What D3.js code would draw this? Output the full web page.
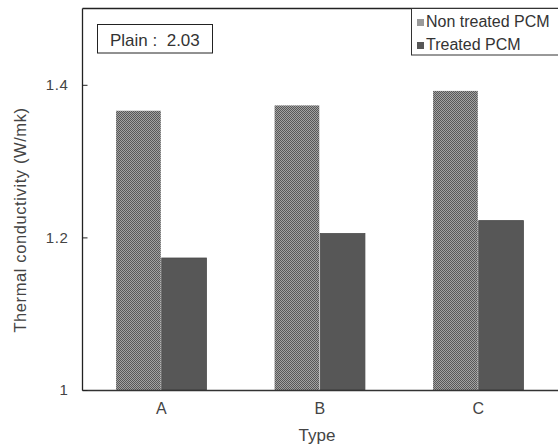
<!DOCTYPE html>
<html>
<head>
<meta charset="utf-8">
<script src="https://cdn.jsdelivr.net/npm/d3@7"></script>
<style>
  html, body { margin: 0; padding: 0; background: #fff; }
  svg { display: block; font-family: "Liberation Sans", Arial, sans-serif; }
</style>
</head>
<body>
<svg id="chart" width="558" height="446"></svg>
<script>
const categories = ["A", "B", "C"];
const seriesNames = ["Non treated PCM", "Treated PCM"];
const nonTreated = [1.366, 1.373, 1.392];
const treated = [1.173, 1.205, 1.222];
const yTicks = [1, 1.2, 1.4];
const yTickLabels = ["1", "1.2", "1.4"];
const note = "Plain :  2.03";
const xTitle = "Type";
const yTitle = "Thermal conductivity  (W/mk)";

const svg = d3.select("#chart");
const plotLeft = 82.5, plotRight = 558, plotTop = 8.5, plotBottom = 390.5;

const defs = svg.append("defs");
const pat = defs.append("pattern").attr("id", "checker")
  .attr("patternUnits", "userSpaceOnUse").attr("width", 2).attr("height", 2);
pat.append("rect").attr("width", 2).attr("height", 2).attr("fill", "#a2a2a2");
pat.append("rect").attr("x", 0).attr("y", 0).attr("width", 1).attr("height", 1).attr("fill", "#575757");
pat.append("rect").attr("x", 1).attr("y", 1).attr("width", 1).attr("height", 1).attr("fill", "#575757");

const x0 = d3.scaleBand().domain(categories).range([plotLeft - 0.5, 557.5])
  .paddingInner(0.43).paddingOuter(0.215);
const x1 = d3.scaleBand().domain(seriesNames).range([0, x0.bandwidth()]).paddingInner(0.02);
const y = d3.scaleLinear().domain([1, 1.5]).range([390, 8.5]);

const fills = ["url(#checker)", "#575757"];
const data = categories.map((c, i) => ({ cat: c, vals: [nonTreated[i], treated[i]] }));

const g = svg.append("g");
data.forEach(d => {
  d.vals.forEach((v, j) => {
    g.append("rect")
      .attr("x", x0(d.cat) + x1(seriesNames[j]))
      .attr("y", y(v))
      .attr("width", x1.bandwidth())
      .attr("height", y(1) - y(v))
      .attr("fill", fills[j])
      .attr("stroke", j === 1 ? "#4a4a4a" : "none")
      .attr("stroke-width", 0.8);
  });
});

// frame lines
svg.append("line").attr("x1", plotLeft).attr("x2", plotRight).attr("y1", plotTop).attr("y2", plotTop)
  .attr("stroke", "#222").attr("stroke-width", 1.3);
svg.append("line").attr("x1", plotLeft).attr("x2", plotRight).attr("y1", plotBottom).attr("y2", plotBottom)
  .attr("stroke", "#333").attr("stroke-width", 1.3);

// y axis
const yAxis = d3.axisLeft(y).tickValues(yTicks).tickSize(-5).tickPadding(14)
  .tickFormat((d, i) => yTickLabels[i]);
const ya = svg.append("g").attr("transform", `translate(${plotLeft},0)`).call(yAxis);
ya.select(".domain").attr("d", `M0,${plotTop}V${plotBottom}`).attr("stroke", "#222").attr("stroke-width", 1.3);
ya.selectAll(".tick line").attr("stroke", "#222");
ya.selectAll(".tick text").attr("font-size", 15).attr("fill", "#444")
  .attr("font-family", "Liberation Sans, Arial, sans-serif").attr("letter-spacing", 0.6);

// x axis labels
const xAxis = d3.axisBottom(x0).tickSize(0).tickPadding(12);
const xa = svg.append("g").attr("transform", `translate(0,${plotBottom})`).call(xAxis);
xa.select(".domain").remove();
xa.selectAll(".tick text").attr("font-size", 16).attr("fill", "#444")
  .attr("font-family", "Liberation Sans, Arial, sans-serif");

// axis titles
svg.append("text").attr("x", 317).attr("y", 441).attr("text-anchor", "middle")
  .attr("font-size", 17).attr("fill", "#444").text(xTitle);
svg.append("text").attr("transform", "translate(26,220) rotate(-90)")
  .attr("text-anchor", "middle").attr("font-size", 16.5).attr("letter-spacing", 0.6)
  .attr("fill", "#444").text(yTitle);

// note box
svg.append("rect").attr("x", 97.5).attr("y", 24.5).attr("width", 115).attr("height", 28.5)
  .attr("fill", "#fff").attr("stroke", "#222").attr("stroke-width", 1);
svg.append("text").attr("x", 110).attr("y", 46).attr("font-size", 17).attr("fill", "#333")
  .attr("xml:space", "preserve").style("white-space", "pre")
  .text(note);

// legend
const lg = svg.append("g");
lg.append("rect").attr("x", 411.5).attr("y", plotTop).attr("width", 160).attr("height", 46.5)
  .attr("fill", "#fff").attr("stroke", "#333").attr("stroke-width", 1);
const legendFills = ["#9a9a9a", "#575757"];
seriesNames.forEach((s, i) => {
  const by = [27, 50][i];
  lg.append("rect").attr("x", 417).attr("y", by - 8).attr("width", 7).attr("height", 7)
    .attr("fill", legendFills[i]);
  lg.append("text").attr("x", 426).attr("y", by).attr("font-size", 16).attr("fill", "#333")
    .text(s);
});
</script>
</body>
</html>
